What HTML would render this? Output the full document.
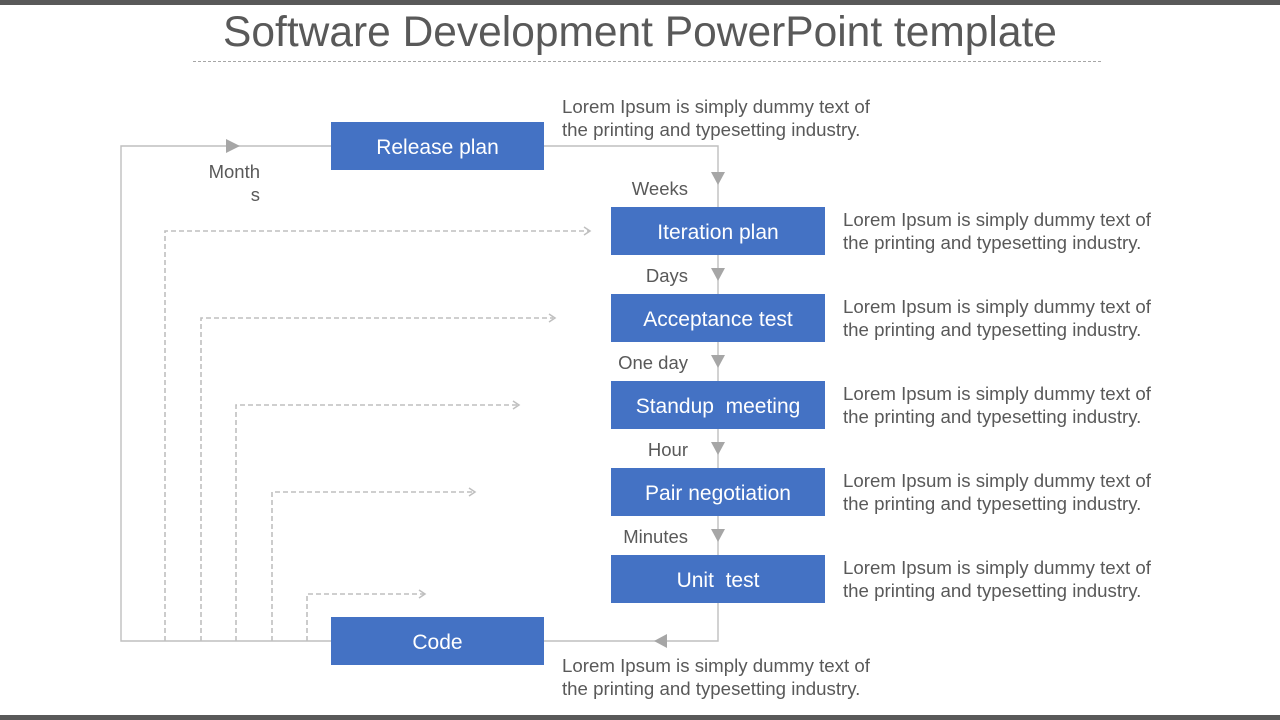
<!DOCTYPE html>
<html>
<head>
<meta charset="utf-8">
<style>
  html,body{margin:0;padding:0;}
  body{width:1280px;height:720px;position:relative;overflow:hidden;background:#fff;font-family:"Liberation Sans",Arial,sans-serif;}
  .bar{position:absolute;left:0;width:1280px;height:5px;background:#595959;}
  .title{position:absolute;left:0;width:1280px;top:12px;text-align:center;font-size:42.5px;line-height:42.5px;color:#595959;white-space:nowrap;}
  .box{position:absolute;background:#4472c4;color:#fff;font-size:21px;display:flex;align-items:center;justify-content:center;white-space:nowrap;padding-top:3px;box-sizing:border-box;}
  .desc{position:absolute;font-size:18.67px;line-height:23px;color:#595959;white-space:nowrap;}
  .lbl{position:absolute;font-size:18.5px;line-height:22px;color:#595959;text-align:right;white-space:nowrap;}
  svg{position:absolute;left:0;top:0;}
</style>
</head>
<body>
<div class="bar" style="top:0"></div>
<div class="bar" style="top:715px"></div>
<div class="title">Software Development PowerPoint template</div>

<svg width="1280" height="720" viewBox="0 0 1280 720">
  <line x1="193" y1="61.5" x2="1101" y2="61.5" stroke="#a6a6a6" stroke-width="1" stroke-dasharray="3 2"/>
  <g fill="none" stroke="#bfbfbf" stroke-width="1.4">
    <polyline points="331,146 121,146 121,641 331,641"/>
    <polyline points="544,146 718,146 718,207"/>
    <line x1="718" y1="255" x2="718" y2="294"/>
    <line x1="718" y1="342" x2="718" y2="381"/>
    <line x1="718" y1="429" x2="718" y2="468"/>
    <line x1="718" y1="516" x2="718" y2="555"/>
    <polyline points="718,603 718,641 544,641"/>
  </g>
  <g fill="none" stroke="#bfbfbf" stroke-width="1.6" stroke-dasharray="5 3">
    <polyline points="165,641 165,231 589,231"/>
    <polyline points="201,641 201,318 553,318"/>
    <polyline points="236,641 236,405 518,405"/>
    <polyline points="272,641 272,492 474,492"/>
    <polyline points="307,641 307,594 424,594"/>
  </g>
  <g fill="none" stroke="#bfbfbf" stroke-width="1.5">
    <path d="M584,227 L590,231 L584,235"/>
    <path d="M549,314 L555,318 L549,322"/>
    <path d="M513,401 L519,405 L513,409"/>
    <path d="M469,488 L475,492 L469,496"/>
    <path d="M419,590 L425,594 L419,598"/>
  </g>
  <g fill="#a6a6a6">
    <polygon points="226,139 240,146 226,153"/>
    <polygon points="711,172 725,172 718,185"/>
    <polygon points="711,268 725,268 718,281"/>
    <polygon points="711,355 725,355 718,368"/>
    <polygon points="711,442 725,442 718,455"/>
    <polygon points="711,529 725,529 718,542"/>
    <polygon points="667,634 667,648 654,641"/>
  </g>
</svg>

<div class="box" style="left:331px;top:122px;width:213px;height:48px;">Release plan</div>
<div class="box" style="left:611px;top:207px;width:214px;height:48px;">Iteration plan</div>
<div class="box" style="left:611px;top:294px;width:214px;height:48px;">Acceptance test</div>
<div class="box" style="left:611px;top:381px;width:214px;height:48px;">Standup&nbsp; meeting</div>
<div class="box" style="left:611px;top:468px;width:214px;height:48px;">Pair negotiation</div>
<div class="box" style="left:611px;top:555px;width:214px;height:48px;">Unit&nbsp; test</div>
<div class="box" style="left:331px;top:617px;width:213px;height:48px;">Code</div>

<div class="desc" style="left:562px;top:94.5px;">Lorem Ipsum is simply dummy text of<br>the printing and typesetting industry.</div>
<div class="desc" style="left:843px;top:207.5px;">Lorem Ipsum is simply dummy text of<br>the printing and typesetting industry.</div>
<div class="desc" style="left:843px;top:294.5px;">Lorem Ipsum is simply dummy text of<br>the printing and typesetting industry.</div>
<div class="desc" style="left:843px;top:381.5px;">Lorem Ipsum is simply dummy text of<br>the printing and typesetting industry.</div>
<div class="desc" style="left:843px;top:468.5px;">Lorem Ipsum is simply dummy text of<br>the printing and typesetting industry.</div>
<div class="desc" style="left:843px;top:555.5px;">Lorem Ipsum is simply dummy text of<br>the printing and typesetting industry.</div>
<div class="desc" style="left:562px;top:653.5px;">Lorem Ipsum is simply dummy text of<br>the printing and typesetting industry.</div>

<div class="lbl" style="right:1020px;top:160px;line-height:23px;">Month<br>s</div>
<div class="lbl" style="right:592px;top:178px;">Weeks</div>
<div class="lbl" style="right:592px;top:265px;">Days</div>
<div class="lbl" style="right:592px;top:352px;">One day</div>
<div class="lbl" style="right:592px;top:439px;">Hour</div>
<div class="lbl" style="right:592px;top:526px;">Minutes</div>
</body>
</html>
